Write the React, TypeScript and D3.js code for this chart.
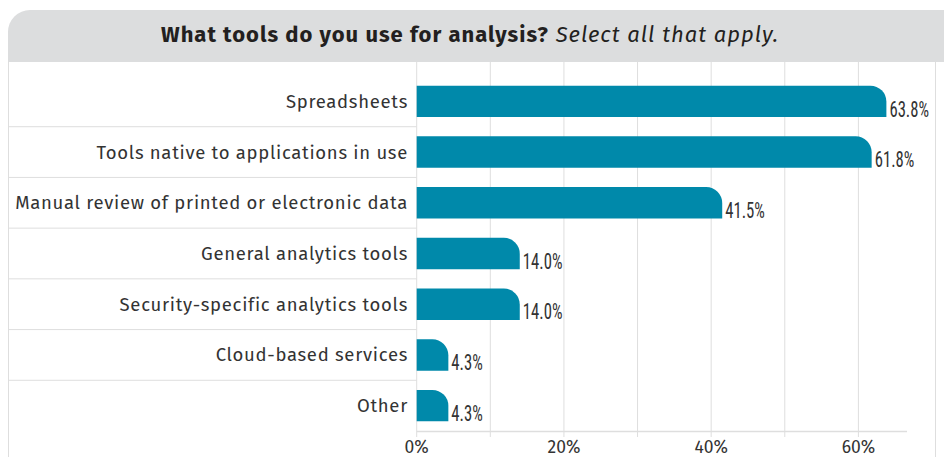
import React from "react";
import * as d3 from "d3";

const categories = [
  "Spreadsheets",
  "Tools native to applications in use",
  "Manual review of printed or electronic data",
  "General analytics tools",
  "Security-specific analytics tools",
  "Cloud-based services",
  "Other",
];
const values = [63.8, 61.8, 41.5, 14.0, 14.0, 4.3, 4.3];
const tickValues = [0, 20, 40, 60];
const gridValues = [0, 10, 20, 30, 40, 50, 60];

const W = 944;
const H = 457;
const COND = "'Liberation Sans Narrow', 'Roboto Condensed', 'Arial Narrow', sans-serif";
const SANS = "'Fira Sans', 'Open Sans', 'Noto Sans', sans-serif";
const TITLE = "'Fira Sans', Roboto, sans-serif";

function barPath(x0: number, x1: number, y0: number, h: number, r: number) {
  const w = x1 - x0;
  const rr = Math.min(r, w, h);
  return `M${x0},${y0 + h}V${y0}H${x1 - rr}A${rr},${rr} 0 0 1 ${x1},${y0 + rr}V${y0 + h}Z`;
}

export default function App() {
  const x = d3.scaleLinear().domain([0, 66.6]).range([416.7, 907]);
  const y = d3.scaleBand<string>().domain(categories).range([76, 431]).paddingInner(0.38).paddingOuter(0.19);
  const yb = d3.scaleBand<string>().domain(categories).range([76, 431]);
  const teal = "#0089aa";
  const grid = "#dedede";
  return (
    <svg width={W} height={H} style={{ position: "absolute", left: 0, top: 0 }}>
      <rect x={0} y={0} width={W} height={H} fill="#fff" />
      {/* panel borders */}
      <line x1={8.5} x2={8.5} y1={40} y2={H} stroke={grid} />
      <line x1={935.5} x2={935.5} y1={40} y2={H} stroke={grid} />
      {/* header */}
      <path d={`M8,62V32A22,22 0 0 1 30,10H${W}V62Z`} fill="#dcddde" />
      <text x={470} y={42} textAnchor="middle" fontFamily={TITLE} fontSize={22} letterSpacing={1} fill="#231f20">
        <tspan fontWeight="bold">What tools do you use for analysis?</tspan>
        <tspan fontStyle="italic"> Select all that apply.</tspan>
      </text>
      {/* grid */}
      {gridValues.map((g) => (
        <g key={g}>
          <line x1={x(g)} x2={x(g)} y1={62} y2={437} stroke={grid} strokeWidth={1} />
        </g>
      ))}
      {/* row separators */}
      {categories.slice(1).map((c) => (
        <line key={c} x1={9} x2={416.7} y1={yb(c)!} y2={yb(c)!} stroke={grid} />
      ))}
      {/* axis */}
      <line x1={x(0)} x2={907} y1={431.5} y2={431.5} stroke={grid} strokeWidth={1.5} />
      {tickValues.map((t) => (
        <text key={t} x={x(t)} y={453} textAnchor="middle" fontFamily={SANS} fontSize={17.5} fill="#333">
          {t}%
        </text>
      ))}
      {/* bars */}
      {categories.map((c, i) => {
        const y0 = y(c)!;
        const h = y.bandwidth();
        return (
          <g key={c}>
            <path d={barPath(x(0), x(values[i]), y0, h, 16)} fill={teal} />
            <text
              transform={`translate(${x(values[i]) + 3},${y0 + h - 0.5}) scale(0.76,1)`}
              fontFamily={COND}
              fontSize={22}
              fill="#333"
            >
              {values[i].toFixed(1)}%
            </text>
            <text
              x={408}
              y={yb(c)! + yb.bandwidth() / 2 + 6.5}
              textAnchor="end"
              fontFamily={SANS}
              fontSize={18.5}
              letterSpacing={0.7}
              fill="#333"
            >
              {c}
            </text>
          </g>
        );
      })}
    </svg>
  );
}
